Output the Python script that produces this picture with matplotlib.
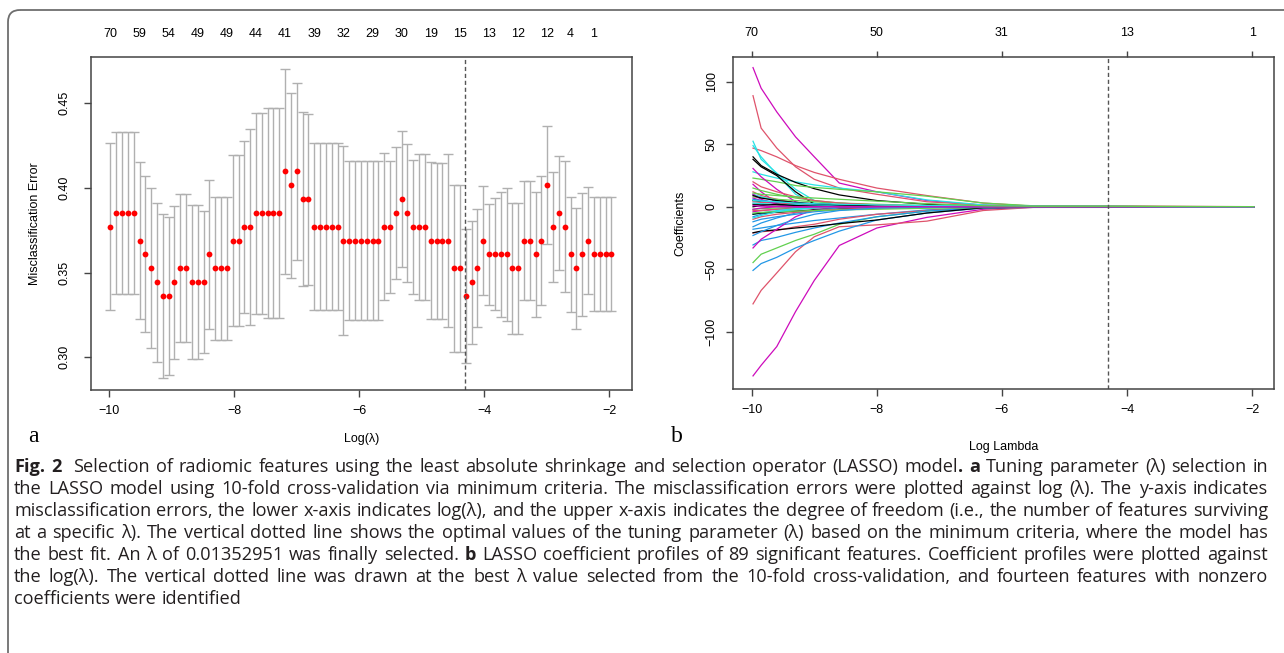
import numpy as np
import matplotlib
matplotlib.use("Agg")
import matplotlib.pyplot as plt
from matplotlib.patches import FancyBboxPatch

W, H, DPI = 1284, 653, 100

# ---------------- Panel a : cross-validated misclassification error ----------------
n_lambda = 87
log_lambda = np.linspace(-9.98, -1.97, n_lambda)   # glmnet lambda grid (log scale)
misclass_error = [
    0.3770, 0.3852, 0.3852, 0.3852, 0.3852, 0.3689, 0.3607, 0.3525, 0.3443, 0.3361,
    0.3361, 0.3443, 0.3525, 0.3525, 0.3443, 0.3443, 0.3443, 0.3607, 0.3525, 0.3525,
    0.3525, 0.3689, 0.3689, 0.3770, 0.3770, 0.3852, 0.3852, 0.3852, 0.3852, 0.3852,
    0.4098, 0.4016, 0.4098, 0.3934, 0.3934, 0.3770, 0.3770, 0.3770, 0.3770, 0.3770,
    0.3689, 0.3689, 0.3689, 0.3689, 0.3689, 0.3689, 0.3689, 0.3770, 0.3770, 0.3852,
    0.3934, 0.3852, 0.3770, 0.3770, 0.3770, 0.3689, 0.3689, 0.3689, 0.3689, 0.3525,
    0.3525, 0.3361, 0.3443, 0.3525, 0.3689, 0.3607, 0.3607, 0.3607, 0.3607, 0.3525,
    0.3525, 0.3689, 0.3689, 0.3607, 0.3689, 0.4016, 0.3770, 0.3852, 0.3770, 0.3607,
    0.3525, 0.3607, 0.3689, 0.3607, 0.3607, 0.3607, 0.3607,
]
cv_sd = [
    0.0493, 0.0477, 0.0477, 0.0477, 0.0477, 0.0464, 0.0461, 0.0473, 0.0469, 0.0483,
    0.0465, 0.0452, 0.0438, 0.0438, 0.0454, 0.0454, 0.0420, 0.0442, 0.0422, 0.0422,
    0.0422, 0.0507, 0.0507, 0.0507, 0.0578, 0.0594, 0.0594, 0.0623, 0.0623, 0.0623,
    0.0607, 0.0546, 0.0522, 0.0512, 0.0506, 0.0493, 0.0493, 0.0493, 0.0493, 0.0493,
    0.0557, 0.0468, 0.0468, 0.0468, 0.0468, 0.0468, 0.0468, 0.0434, 0.0389, 0.0388,
    0.0402, 0.0405, 0.0398, 0.0432, 0.0432, 0.0464, 0.0461, 0.0461, 0.0512, 0.0493,
    0.0493, 0.0394, 0.0364, 0.0348, 0.0324, 0.0298, 0.0331, 0.0372, 0.0392, 0.0387,
    0.0387, 0.0351, 0.0351, 0.0370, 0.0383, 0.0350, 0.0325, 0.0338, 0.0387, 0.0342,
    0.0358, 0.0364, 0.0318, 0.0337, 0.0337, 0.0337, 0.0337,
]
top_df_index = [0, 5, 10, 15, 20, 25, 30, 35, 40, 45, 50, 55, 60, 65, 70, 75, 79, 83]
top_df_labels = ["70", "59", "54", "49", "49", "44", "41", "39", "32", "29",
                 "30", "19", "15", "13", "12", "12", "4", "1"]
lambda_best = 0.01352951

# ---------------- Panel b : coefficient paths ----------------
coef_knots = [-9.98, -9.85, -9.6, -9.3, -9.0, -8.6, -8.0, -7.2, -6.3, -5.5, -4.3, -3.0, -1.97]
R_COLS = {"k": "black", "r": "#DF536B", "g": "#61D04F", "b": "#2297E6", "c": "#28E2E5", "m": "#CD0BBC"}

large_path_colors = list("mmrrcccbkgrrgbbkmmmk")
large_paths = [
    [111.5, 95, 76, 56, 40, 19, 12, 5, 1.2, 0.3, 0, 0, 0],
    [-135.5, -127, -112, -84, -59, -31, -17, -8.5, -2, -0.3, 0, 0, 0],
    [89, 63, 47, 32, 22, 15, 10, 4, 1.5, 0.4, 0.3, 0, 0],
    [47, 45, 40, 33, 27.5, 22, 15, 9, 3, 0.5, 0, 0, 0],
    [52.5, 38, 27, 14, 5, 1, 0, 0, 0, 0, 0, 0, 0],
    [49, 40, 26, 10, 3, 0.5, 0, 0, 0, 0, 0, 0, 0],
    [28, 26, 23, 20, 17.5, 15, 12, 5.5, 1.5, 0.2, 0, 0, 0],
    [-18, -17, -15, -13, -11, -9, -6, -2.5, -0.6, -0.3, -0.2, 0, 0],
    [40, 33, 26, 19.5, 14.5, 9.5, 5, 2, 0.5, 0, 0, 0, 0],
    [23, 22, 20, 17, 15.5, 14, 12, 8.5, 3, 0.8, 0.5, 0.2, 0],
    [-77.8, -67, -53, -36, -24, -16, -14.5, -11.5, -3, -0.5, -0.4, 0, 0],
    [-21, -20, -19, -16, -14, -10, -6, -3, -0.5, 0, 0, 0, 0],
    [-44.7, -38, -33, -27, -22, -14, -8, -3.5, -0.5, 0, 0, 0, 0],
    [-51, -45.5, -40.5, -33, -27, -19.5, -10.6, -5, -1, -0.5, -0.4, 0, 0],
    [-30.6, -27, -24.5, -20.5, -17, -13, -8, -3.5, -0.7, 0, 0, 0, 0],
    [-20.8, -19.5, -18.5, -17, -15.7, -13.5, -10.6, -5, -0.8, -0.3, -0.3, 0, 0],
    [-33, -26, -18, -8, -2, 0, 0, 0, 0, 0, 0, 0, 0],
    [30.7, 24, 14, 4, 0.5, 0, 0, 0, 0, 0, 0, 0, 0],
    [18, 12, 3, 0, 0, 0, 0, 0, 0, 0, 0, 0, 0],
    [38, 32, 25, 12, 2, 0, 0, 0, 0, 0, 0, 0, 0],
]

small_path_colors = list("krgbcmkrgbcmkrgbcmkrgbcmkrbcmg")
small_paths = [
    [5, 4, 3, 2, 1, 0.3, 0, 0, 0, 0, 0, 0, 0],
    [12, 9, 6, 3, 1, 0, 0, 0, 0, 0, 0, 0, 0],
    [8, 7, 6, 5, 4, 3, 2, 1, 0.4, 0.2, 0.3, 0, 0],
    [-8, -6, -4, -2, -1, 0, 0, 0, 0, 0, 0, 0, 0],
    [10, 8, 5, 2, 0.5, 0, 0, 0, 0, 0, 0, 0, 0],
    [-4, -3, -2, -1, -0.5, 0, 0, 0, 0, 0, 0, 0, 0],
    [2, 2, 1.5, 1, 0.5, 0.2, 0, 0, 0, 0, 0, 0, 0],
    [-3, -3, -2, -1.5, -1, -0.5, -0.2, -0.3, -0.3, -0.3, -0.4, 0, 0],
    [15, 13, 10, 7, 5, 3, 1, 0.2, 0, 0, 0, 0, 0],
    [-12, -10, -8, -6, -4, -2.5, -1, -0.3, 0, 0, 0, 0, 0],
    [-6, -5, -3, -1.5, -0.5, 0, 0, 0, 0, 0, 0, 0, 0],
    [7, 5, 3, 1, 0, 0, 0, 0, 0, 0, 0, 0, 0],
    [-6, -5, -4.5, -3.5, -2.5, -1.5, -0.5, -0.4, -0.4, -0.5, -0.5, -0.2, 0],
    [4, 3.5, 3, 2.5, 2, 1.5, 1, 0.5, 0.4, 0.5, 0.6, 0.3, 0.1],
    [-2, -1.5, -1, -0.5, 0, 0, 0, 0, 0, 0, 0, 0, 0],
    [-16, -13, -9, -5, -3, -1, 0, 0, 0, 0, 0, 0, 0],
    [3, 2.5, 2, 1.5, 1, 0.5, 0.3, 0.3, 0.3, 0.3, 0.2, 0, 0],
    [10, 6, 2, 0, 0, 0, 0, 0, 0, 0, 0, 0, 0],
    [0, 1, 2, 1, 0.5, 0, 0, 0, 0, 0, 0, 0, 0],
    [-10, -8, -6, -4.5, -3, -2, -1, -0.5, -0.3, -0.3, -0.3, 0, 0],
    [-5, -4.5, -4, -3.5, -3, -2.5, -2, -1.2, -0.6, -0.4, -0.3, 0, 0],
    [6, 5, 4, 3, 2, 1.5, 1, 0.5, 0.3, 0.2, 0.2, 0, 0],
    [-9, -7, -4, -2, -1, 0, 0, 0, 0, 0, 0, 0, 0],
    [1, 0.5, 0.2, 0, 0, 0, 0, 0, 0, 0, 0, 0, 0],
    [9, 7, 5, 3.5, 2.5, 1.5, 0.8, 0.3, 0, 0, 0, 0, 0],
    [20, 16, 12, 8, 5, 3, 1.5, 0.5, 0, 0, 0, 0, 0],
    [-23, -20, -15, -10, -6, -3, -1, -0.3, 0, 0, 0, 0, 0],
    [5, 4.5, 4, 3, 2.5, 2, 1.5, 1, 0.5, 0.3, 0.3, 0, 0],
    [-2, -1, 0, 0, 0, 0, 0, 0, 0, 0, 0, 0, 0],
    [11, 10, 9, 8, 7, 6, 4.5, 2.5, 0.8, 0.4, 0.4, 0.2, 0.1],
]
top_b_ticks = [-10, -8, -6, -4, -2]
top_b_labels = ["70", "50", "31", "13", "1"]

# ---------------- Caption ----------------
caption_lines = [
    "*Fig. 2*  Selection of radiomic features using the least absolute shrinkage and selection operator (LASSO) model*. a* Tuning parameter (λ) selection in",
    "the LASSO model using 10-fold cross-validation via minimum criteria. The misclassification errors were plotted against log (λ). The y-axis indicates",
    "misclassification errors, the lower x-axis indicates log(λ), and the upper x-axis indicates the degree of freedom (i.e., the number of features surviving",
    "at a specific λ). The vertical dotted line shows the optimal values of the tuning parameter (λ) based on the minimum criteria, where the model has",
    "the best fit. An λ of 0.01352951 was finally selected. *b* LASSO coefficient profiles of 89 significant features. Coefficient profiles were plotted against",
    "the log(λ). The vertical dotted line was drawn at the best λ value selected from the 10-fold cross-validation, and fourteen features with nonzero",
    "coefficients were identified",
]

# =====================================================================
plt.rcParams["font.family"] = ["Liberation Sans", "DejaVu Sans"]
fig = plt.figure(figsize=(W / DPI, H / DPI), dpi=DPI)
bg = fig.add_axes([0, 0, 1, 1], zorder=0)
bg.set_xlim(0, W)
bg.set_ylim(H, 0)
bg.axis("off")

AX_COL = "#444444"
TICK_FS = 9


def px_axes(x0, y0, x1, y1):
    return fig.add_axes([x0 / W, 1 - y1 / H, (x1 - x0) / W, (y1 - y0) / H], zorder=2)


def style_axes(ax, ypad):
    for sp in ax.spines.values():
        sp.set_color(AX_COL)
        sp.set_linewidth(1.1)
    ax.tick_params(direction="out", length=5, width=1, color=AX_COL, labelsize=TICK_FS,
                   labelcolor="black")
    ax.tick_params(axis="x", pad=6)
    ax.tick_params(axis="y", pad=ypad, labelrotation=90)
    for lbl in ax.get_yticklabels():
        lbl.set_va("center")


# ---- panel a ----
axa = px_axes(91, 57, 632, 390)
axa.errorbar(log_lambda, misclass_error, yerr=cv_sd, fmt="none", ecolor="#B0B0B0",
             elinewidth=1.0, capsize=3.6, capthick=1.0)
axa.plot(log_lambda, misclass_error, "o", color="red", ms=4.2, mec="none")
axa.axvline(np.log(lambda_best), color="#555555", lw=1.0, ls=(0, (3, 2)))
axa.set_xlim(-10.29, -1.64)
axa.set_ylim(0.2806, 0.4774)
axa.set_xticks([-10, -8, -6, -4, -2])
axa.set_yticks([0.30, 0.35, 0.40, 0.45])
axa.set_yticklabels(["0.30", "0.35", "0.40", "0.45"])
style_axes(axa, 10)
axa.set_xlabel("Log(λ)", fontsize=TICK_FS, labelpad=11)
axa.set_ylabel("Misclassification Error", fontsize=TICK_FS, labelpad=12)
seca = axa.secondary_xaxis("top")
seca.set_xticks(log_lambda[top_df_index], labels=top_df_labels)
seca.tick_params(length=0, pad=12, labelsize=TICK_FS)
seca.spines["top"].set_visible(False)

# ---- panel b ----
axb = px_axes(733, 57, 1274, 389)
for c, vals in zip(large_path_colors, large_paths):
    axb.plot(coef_knots, vals, color=R_COLS[c], lw=0.9)
for c, vals in zip(small_path_colors, small_paths):
    axb.plot(coef_knots, vals, color=R_COLS[c], lw=0.9)
axb.axvline(np.log(lambda_best), color="#555555", lw=1.0, ls=(0, (3, 2)))
axb.set_xlim(-10.3, -1.65)
axb.set_ylim(-146, 120)
axb.set_xticks([-10, -8, -6, -4, -2])
axb.set_yticks([-100, -50, 0, 50, 100])
style_axes(axb, 6)
axb.set_xlabel("Log Lambda", fontsize=TICK_FS, labelpad=18)
axb.set_ylabel("Coefficients", fontsize=TICK_FS, labelpad=14)
secb = axb.secondary_xaxis("top")
secb.set_xticks(top_b_ticks, labels=top_b_labels)
secb.tick_params(direction="out", length=4, width=1, color=AX_COL, pad=9, labelsize=TICK_FS)
secb.spines["top"].set_visible(False)

# ---- panel letters ----
bg.text(33, 437, "a", family=["Liberation Serif"], fontsize=17, ha="center", va="center")
bg.text(677, 437, "b", family=["Liberation Serif"], fontsize=17, ha="center", va="center")

# ---- border ----
bg.add_patch(FancyBboxPatch((8, 10), 1500, 900, boxstyle="round,pad=0,rounding_size=12",
                            fill=False, ec="#6E6E6E", lw=1.3))

# ---- caption (justified) ----
CAP_FONT = ["Open Sans", "DejaVu Sans"]
CAP_COL = "#231F20"
LEFT, RIGHT = 14, 1268
renderer = fig.canvas.get_renderer()


def measure(s, bold, fs):
    t = bg.text(0, 0, s, family=CAP_FONT, fontsize=fs, weight="bold" if bold else "normal")
    w = t.get_window_extent(renderer).width
    t.remove()
    return w


def parse(line):
    words, runs, cur, bold = [], [], "", False
    for ch in line:
        if ch == "*":
            if cur:
                runs.append((cur, bold))
                cur = ""
            bold = not bold
        elif ch == " ":
            if cur:
                runs.append((cur, bold))
                cur = ""
            words.append(runs)
            runs = []
        else:
            cur += ch
    if cur:
        runs.append((cur, bold))
    words.append(runs)
    return words


parsed = [parse(l) for l in caption_lines]


def natural_width(words, fs, sp):
    tot = sum(measure(s, b, fs) for w in words for s, b in w)
    return tot + sp * (len(words) - 1)


FS0 = 10.0
sp0 = measure("n n", False, FS0) - measure("nn", False, FS0)
max_nat = max(natural_width(w, FS0, sp0) for w in parsed[:-1])
CAP_FS = FS0 * (RIGHT - LEFT - 6) / max_nat
space_w = measure("n n", False, CAP_FS) - measure("nn", False, CAP_FS)

for i, words in enumerate(parsed):
    widths = [[measure(s, b, CAP_FS) for s, b in w] for w in words]
    total = sum(sum(ws) for ws in widths)
    gaps = len(words) - 1
    last = i == len(parsed) - 1
    gap = space_w if last or gaps == 0 else (RIGHT - LEFT - total) / gaps
    x = LEFT
    y = 472 + 22 * i
    for w, ws in zip(words, widths):
        for (s, b), wd in zip(w, ws):
            bg.text(x, y, s, family=CAP_FONT, fontsize=CAP_FS, color=CAP_COL,
                    weight="bold" if b else "normal", va="baseline", ha="left")
            x += wd
        x += gap

fig.savefig("out.png", dpi=DPI)
